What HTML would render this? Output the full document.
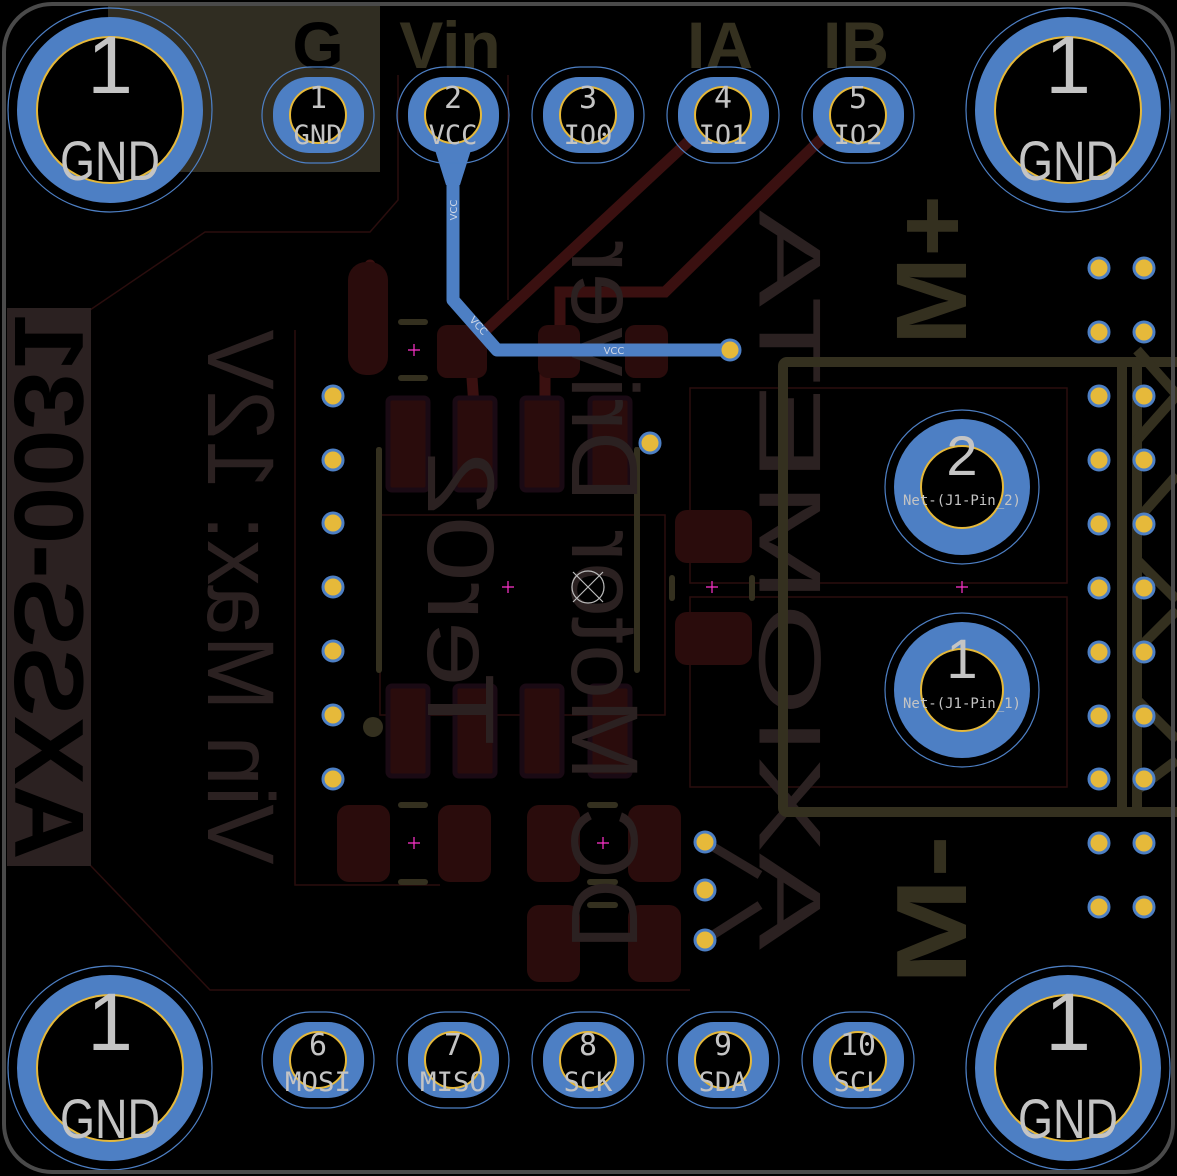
<!DOCTYPE html>
<html><head><meta charset="utf-8"><style>html,body{margin:0;padding:0;background:#000;}svg{display:block}</style></head>
<body>
<svg width="1177" height="1176" viewBox="0 0 1177 1176" xmlns="http://www.w3.org/2000/svg" font-family="Liberation Sans, sans-serif">
<rect width="1177" height="1176" fill="#000"/>
<!-- front silk block top-left -->
<rect x="108" y="5" width="272" height="167" fill="#302d22"/>
<!-- courtyard faint lines -->
<g stroke="#2a0d0d" stroke-width="1.5" fill="none">
<polyline points="398,75 398,200 370,232 205,232 90,310"/>
<polyline points="508,75 508,300"/>
<polyline points="295,330 295,885 440,885"/>
<rect x="380" y="515" width="285" height="200"/>
<rect x="690" y="388" width="377" height="195"/>
<rect x="690" y="597" width="377" height="190"/>
<polyline points="90,865 210,990 690,990"/>
</g>
<!-- back copper traces -->
<g stroke="#3a1010" stroke-width="11" fill="none" stroke-linecap="round">
<line x1="690" y1="140" x2="470" y2="345"/>
<polyline points="820,140 665,292 560,292 560,340"/>
<line x1="370" y1="265" x2="370" y2="340"/>
<line x1="470" y1="350" x2="475" y2="420"/>
<line x1="545" y1="350" x2="545" y2="420"/>
</g>
<!-- back copper pads -->
<g fill="#2a0c0c">
<rect x="348" y="262" width="40" height="113" rx="18"/>
<rect x="437" y="325" width="50" height="53" rx="10"/>
<rect x="538" y="325" width="42" height="53" rx="10"/>
<rect x="625" y="325" width="43" height="53" rx="10"/>
<rect x="388" y="398" width="40" height="92" rx="4" stroke="#1a0a14" stroke-width="5"/>
<rect x="455" y="398" width="40" height="92" rx="4" stroke="#1a0a14" stroke-width="5"/>
<rect x="522" y="398" width="40" height="92" rx="4" stroke="#1a0a14" stroke-width="5"/>
<rect x="590" y="398" width="40" height="92" rx="4" stroke="#1a0a14" stroke-width="5"/>
<rect x="388" y="686" width="40" height="90" rx="4" stroke="#1a0a14" stroke-width="5"/>
<rect x="455" y="686" width="40" height="90" rx="4" stroke="#1a0a14" stroke-width="5"/>
<rect x="522" y="686" width="40" height="90" rx="4" stroke="#1a0a14" stroke-width="5"/>
<rect x="590" y="686" width="40" height="90" rx="4" stroke="#1a0a14" stroke-width="5"/>
<rect x="337" y="805" width="53" height="77" rx="12"/>
<rect x="438" y="805" width="53" height="77" rx="12"/>
<rect x="527" y="805" width="53" height="77" rx="12"/>
<rect x="628" y="805" width="53" height="77" rx="12"/>
<rect x="527" y="905" width="53" height="77" rx="12"/>
<rect x="628" y="905" width="53" height="77" rx="12"/>
<rect x="675" y="510" width="77" height="53" rx="12"/>
<rect x="675" y="612" width="77" height="53" rx="12"/>
</g>
<!-- front silk small marks -->
<g stroke="#34301f" stroke-width="6" stroke-linecap="round" fill="none">
<line x1="379" y1="450" x2="379" y2="578" transform="translate(0,-0)"/>
<line x1="379" y1="505" x2="379" y2="578"/>
<line x1="379" y1="450" x2="379" y2="578"/>
<line x1="379" y1="580" x2="379" y2="578"/>
<line x1="379" y1="505" x2="379" y2="578"/>
<line x1="379" y1="505" x2="379" y2="578"/>
<line x1="379" y1="505" x2="379" y2="578"/>
</g>
<g stroke="#34301f" stroke-width="6" stroke-linecap="round">
<line x1="379" y1="505" x2="379" y2="578"/>
<line x1="379" y1="450" x2="379" y2="578"/>
<line x1="379" y1="450" x2="379" y2="578"/>
<line x1="379" y1="504" x2="379" y2="577"/>
<line x1="379" y1="502" x2="379" y2="578"/>
<line x1="379" y1="505" x2="379" y2="578"/>
<line x1="379" y1="505" x2="379" y2="578"/>
<line x1="379" y1="505" x2="379" y2="578"/>
<line x1="379" y1="450" x2="379" y2="578"/>
<line x1="379" y1="452" x2="379" y2="578"/>
<line x1="379" y1="503" x2="379" y2="578"/>
<line x1="379" y1="503" x2="379" y2="670"/>
<line x1="637" y1="452" x2="637" y2="578"/>
<line x1="637" y1="452" x2="637" y2="578"/>
<line x1="637" y1="450" x2="637" y2="578"/>
<line x1="637" y1="450" x2="637" y2="578"/>
<line x1="637" y1="450" x2="637" y2="578"/>
<line x1="637" y1="450" x2="637" y2="578"/>
<line x1="637" y1="450" x2="637" y2="578"/>
<line x1="637" y1="450" x2="637" y2="578"/>
<line x1="637" y1="450" x2="637" y2="578"/>
<line x1="637" y1="450" x2="637" y2="578"/>
<line x1="637" y1="450" x2="637" y2="578"/>
<line x1="637" y1="450" x2="637" y2="670"/>
<line x1="401" y1="322" x2="425" y2="322"/><line x1="401" y1="378" x2="425" y2="378"/>
<line x1="401" y1="805" x2="425" y2="805"/><line x1="401" y1="882" x2="425" y2="882"/>
<line x1="590" y1="805" x2="615" y2="805"/><line x1="590" y1="882" x2="615" y2="882"/>
<line x1="590" y1="905" x2="615" y2="905"/>
<line x1="672" y1="578" x2="672" y2="598"/><line x1="752" y1="578" x2="752" y2="598"/>
</g>
<circle cx="373" cy="727" r="10" fill="#34301f"/>
<!-- back silk texts -->
<g fill="#2b2121" font-family="Liberation Sans, sans-serif">
<rect x="7" y="308" width="84" height="558" fill="#2b2121"/>
<text transform="translate(49,587) rotate(-90) scale(1,-1)" text-anchor="middle" dominant-baseline="central" font-size="98" font-weight="bold" fill="#000" textLength="545" lengthAdjust="spacingAndGlyphs">AXSS-0031</text>
<text transform="translate(240,597) rotate(-90) scale(1,-1)" text-anchor="middle" dominant-baseline="central" font-size="95" textLength="535" lengthAdjust="spacingAndGlyphs">Vin Max: 12V</text>
<text transform="translate(604,595) rotate(-90) scale(1,-1)" text-anchor="middle" dominant-baseline="central" font-size="95" textLength="710" lengthAdjust="spacingAndGlyphs">DC Motor Driver</text>
<text transform="translate(460,598) rotate(-90) scale(1,-1)" text-anchor="middle" dominant-baseline="central" font-size="95" textLength="295" lengthAdjust="spacingAndGlyphs">Ter02</text>
<text transform="translate(790,580) rotate(-90) scale(1,-1)" text-anchor="middle" dominant-baseline="central" font-size="88" textLength="740" lengthAdjust="spacingAndGlyphs">AXIOMETA</text>
</g>
<g stroke="#2b2121" stroke-width="9">
<line x1="705" y1="842" x2="760" y2="875"/>
<line x1="705" y1="940" x2="760" y2="905"/>
</g>
<!-- front silk text -->
<g fill="#34301f" font-weight="bold" font-family="Liberation Sans, sans-serif">
<text x="318" y="68" text-anchor="middle" font-size="66" fill="#000">G</text>
<text x="450" y="68" text-anchor="middle" font-size="66">Vin</text>
<text x="720" y="68" text-anchor="middle" font-size="66">IA</text>
<text x="856" y="68" text-anchor="middle" font-size="66">IB</text>
<text transform="translate(932,270) rotate(-90)" text-anchor="middle" dominant-baseline="central" font-size="100" textLength="150" lengthAdjust="spacingAndGlyphs">M+</text>
<text transform="translate(932,910) rotate(-90)" text-anchor="middle" dominant-baseline="central" font-size="100" textLength="150" lengthAdjust="spacingAndGlyphs">M-</text>
</g>
<!-- connector outline -->
<g stroke="#34301f" stroke-width="10" fill="none">
<rect x="783" y="362" width="400" height="450" rx="4"/>
<line x1="1122" y1="362" x2="1122" y2="812"/>
<line x1="1137" y1="362" x2="1137" y2="812"/>
<polyline points="1137,440 1177,395 1137,350"/>
<polyline points="1137,520 1177,475"/>
<polyline points="1137,560 1177,600"/>
<polyline points="1137,650 1177,610"/>
<polyline points="1137,700 1177,740"/>
<polyline points="1137,790 1177,760"/>
</g>
<!-- VCC trace -->
<g fill="#4d7fc4">
<path d="M424,115 A30,30 0 0 1 482,115 L460,185 L446,185 Z"/>
</g>
<polyline points="453,150 453,300 497,350 730,350" fill="none" stroke="#4d7fc4" stroke-width="13" stroke-linejoin="round"/>
<g fill="#cfd8e8" font-family="DejaVu Sans, sans-serif" font-size="10">
<text transform="translate(457,210) rotate(-90)" text-anchor="middle">VCC</text>
<text transform="translate(476,328) rotate(48)" text-anchor="middle">VCC</text>
<text x="614" y="354" text-anchor="middle">VCC</text>
</g>
<!-- small vias -->
<g fill="#e6b93a" stroke="#4d7fc4" stroke-width="3">
<circle cx="730" cy="350" r="10"/>
<circle cx="650" cy="443" r="10"/>
<circle cx="333" cy="396" r="10"/><circle cx="333" cy="460" r="10"/><circle cx="333" cy="523" r="10"/><circle cx="333" cy="587" r="10"/><circle cx="333" cy="651" r="10"/><circle cx="333" cy="715" r="10"/><circle cx="333" cy="779" r="10"/>
<circle cx="705" cy="842" r="10"/><circle cx="705" cy="890" r="10"/><circle cx="705" cy="940" r="10"/>
<circle cx="1099" cy="268" r="10"/><circle cx="1144" cy="268" r="10"/>
<circle cx="1099" cy="332" r="10"/><circle cx="1144" cy="332" r="10"/>
<circle cx="1099" cy="396" r="10"/><circle cx="1144" cy="396" r="10"/>
<circle cx="1099" cy="460" r="10"/><circle cx="1144" cy="460" r="10"/>
<circle cx="1099" cy="524" r="10"/><circle cx="1144" cy="524" r="10"/>
<circle cx="1099" cy="588" r="10"/><circle cx="1144" cy="588" r="10"/>
<circle cx="1099" cy="652" r="10"/><circle cx="1144" cy="652" r="10"/>
<circle cx="1099" cy="716" r="10"/><circle cx="1144" cy="716" r="10"/>
<circle cx="1099" cy="779" r="10"/><circle cx="1144" cy="779" r="10"/>
<circle cx="1099" cy="843" r="10"/><circle cx="1144" cy="843" r="10"/>
<circle cx="1099" cy="907" r="10"/><circle cx="1144" cy="907" r="10"/>
</g>
<!-- mounting holes -->
<g>
<g id="mh">
<circle cx="110" cy="110" r="102" fill="none" stroke="#4d7fc4" stroke-width="1.2"/>
<circle cx="110" cy="110" r="83" fill="none" stroke="#4d7fc4" stroke-width="20"/>
<circle cx="110" cy="110" r="73" fill="#000" stroke="#e6b93a" stroke-width="2"/>
</g>
<circle cx="1068" cy="110" r="102" fill="none" stroke="#4d7fc4" stroke-width="1.2"/>
<circle cx="1068" cy="110" r="83" fill="none" stroke="#4d7fc4" stroke-width="20"/>
<circle cx="1068" cy="110" r="73" fill="#000" stroke="#e6b93a" stroke-width="2"/>
<circle cx="110" cy="1068" r="102" fill="none" stroke="#4d7fc4" stroke-width="1.2"/>
<circle cx="110" cy="1068" r="83" fill="none" stroke="#4d7fc4" stroke-width="20"/>
<circle cx="110" cy="1068" r="73" fill="#000" stroke="#e6b93a" stroke-width="2"/>
<circle cx="1068" cy="1068" r="102" fill="none" stroke="#4d7fc4" stroke-width="1.2"/>
<circle cx="1068" cy="1068" r="83" fill="none" stroke="#4d7fc4" stroke-width="20"/>
<circle cx="1068" cy="1068" r="73" fill="#000" stroke="#e6b93a" stroke-width="2"/>
</g>
<!-- J1 pads -->
<g>
<circle cx="962" cy="487" r="77" fill="none" stroke="#4d7fc4" stroke-width="1.2"/>
<circle cx="962" cy="487" r="68" fill="#4d7fc4"/>
<circle cx="962" cy="487" r="41" fill="#000" stroke="#e6b93a" stroke-width="2"/>
<circle cx="962" cy="690" r="77" fill="none" stroke="#4d7fc4" stroke-width="1.2"/>
<circle cx="962" cy="690" r="68" fill="#4d7fc4"/>
<circle cx="962" cy="690" r="41" fill="#000" stroke="#e6b93a" stroke-width="2"/>
</g>
<!-- header pads -->
<g fill="none">
<g stroke="#4d7fc4" stroke-width="1.2">
<rect x="262" y="67" width="112" height="96" rx="48"/><rect x="397" y="67" width="112" height="96" rx="48"/><rect x="532" y="67" width="112" height="96" rx="48"/><rect x="667" y="67" width="112" height="96" rx="48"/><rect x="802" y="67" width="112" height="96" rx="48"/>
<rect x="262" y="1012" width="112" height="96" rx="48"/><rect x="397" y="1012" width="112" height="96" rx="48"/><rect x="532" y="1012" width="112" height="96" rx="48"/><rect x="667" y="1012" width="112" height="96" rx="48"/><rect x="802" y="1012" width="112" height="96" rx="48"/>
</g>
<g fill="#4d7fc4">
<rect x="273" y="77" width="91" height="76" rx="36"/><rect x="408" y="77" width="91" height="76" rx="36"/><rect x="543" y="77" width="91" height="76" rx="36"/><rect x="678" y="77" width="91" height="76" rx="36"/><rect x="813" y="77" width="91" height="76" rx="36"/>
<rect x="273" y="1022" width="91" height="76" rx="36"/><rect x="408" y="1022" width="91" height="76" rx="36"/><rect x="543" y="1022" width="91" height="76" rx="36"/><rect x="678" y="1022" width="91" height="76" rx="36"/><rect x="813" y="1022" width="91" height="76" rx="36"/>
</g>
<g fill="#000" stroke="#e6b93a" stroke-width="2">
<circle cx="318" cy="115" r="28"/><circle cx="453" cy="115" r="28"/><circle cx="588" cy="115" r="28"/><circle cx="723" cy="115" r="28"/><circle cx="858" cy="115" r="28"/>
<circle cx="318" cy="1060" r="28"/><circle cx="453" cy="1060" r="28"/><circle cx="588" cy="1060" r="28"/><circle cx="723" cy="1060" r="28"/><circle cx="858" cy="1060" r="28"/>
</g>
</g>
<!-- pad labels -->
<g fill="#c4c4c4" text-anchor="middle" font-family="Liberation Sans, sans-serif">
<text x="110" y="93" font-size="82">1</text><text x="1068" y="93" font-size="82">1</text>
<text x="110" y="1050" font-size="82">1</text><text x="1068" y="1050" font-size="82">1</text>
<text x="110" y="180" font-size="56" textLength="100" lengthAdjust="spacingAndGlyphs">GND</text>
<text x="1068" y="180" font-size="56" textLength="100" lengthAdjust="spacingAndGlyphs">GND</text>
<text x="110" y="1138" font-size="56" textLength="100" lengthAdjust="spacingAndGlyphs">GND</text>
<text x="1068" y="1138" font-size="56" textLength="100" lengthAdjust="spacingAndGlyphs">GND</text>
<text x="962" y="475" font-size="56">2</text><text x="962" y="678" font-size="56">1</text>
</g>
<g fill="#c4c4c4" text-anchor="middle" font-family="DejaVu Sans Mono, Liberation Mono, monospace">
<text x="962" y="505" font-size="14">Net-(J1-Pin_2)</text>
<text x="962" y="708" font-size="14">Net-(J1-Pin_1)</text>
<g font-size="30">
<text x="318" y="108">1</text><text x="453" y="108">2</text><text x="588" y="108">3</text><text x="723" y="108">4</text><text x="858" y="108">5</text>
<text x="318" y="1055">6</text><text x="453" y="1055">7</text><text x="588" y="1055">8</text><text x="723" y="1055">9</text><text x="858" y="1055">10</text>
</g>
<g font-size="27">
<text x="318" y="144">GND</text><text x="453" y="144">VCC</text><text x="588" y="144">IO0</text><text x="723" y="144">IO1</text><text x="858" y="144">IO2</text>
<text x="318" y="1091" textLength="66" lengthAdjust="spacingAndGlyphs">MOSI</text><text x="453" y="1091" textLength="66" lengthAdjust="spacingAndGlyphs">MISO</text><text x="588" y="1091">SCK</text><text x="723" y="1091">SDA</text><text x="858" y="1091">SCL</text>
</g>
</g>
<!-- origin markers -->
<g stroke="#ff33cc" stroke-width="1.2">
<path d="M408,350h12M414,344v12"/><path d="M502,587h12M508,581v12"/><path d="M706,587h12M712,581v12"/><path d="M956,587h12M962,581v12"/><path d="M408,843h12M414,837v12"/><path d="M597,843h12M603,837v12"/>
</g>
<g stroke="#bbb" stroke-width="1.2" fill="none">
<circle cx="588" cy="587" r="16"/><path d="M573,572l30,30M603,572l-30,30"/>
</g>
<!-- board outline -->
<rect x="4" y="4" width="1169" height="1168" rx="48" fill="none" stroke="#4a4a4a" stroke-width="4"/>
</svg>
</body></html>
